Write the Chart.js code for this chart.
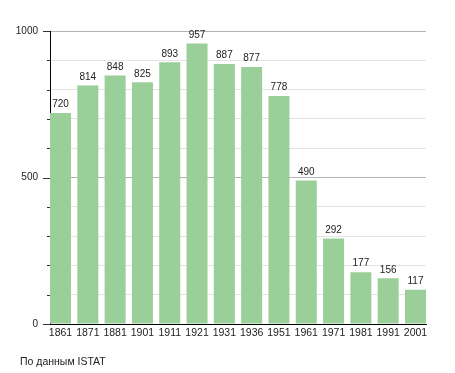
<!DOCTYPE html>
<html>
<head>
<meta charset="utf-8">
<script src="https://cdn.jsdelivr.net/npm/chart.js@4/dist/chart.umd.min.js"></script>
<style>
  html, body { margin: 0; padding: 0; background: #fff; }
  #wrap { width: 455px; height: 373px; }
</style>
</head>
<body>
<div id="wrap"><canvas id="c" width="455" height="373"></canvas></div>
<script>
const years = ['1861','1871','1881','1901','1911','1921','1931','1936','1951','1961','1971','1981','1991','2001'];
const population = [720, 814, 848, 825, 893, 957, 887, 877, 778, 490, 292, 177, 156, 117];
const yTickLabels = [0, 500, 1000];
const sourceNote = 'По данным ISTAT';

const FONT = '"Liberation Sans", Arial, sans-serif';

const valueLabels = {
  id: 'valueLabels',
  afterDatasetsDraw(chart) {
    const ctx = chart.ctx;
    const meta = chart.getDatasetMeta(0);
    ctx.save();
    ctx.font = '10px ' + FONT;
    ctx.fillStyle = '#222';
    ctx.textAlign = 'center';
    ctx.textBaseline = 'middle';
    meta.data.forEach((bar, i) => {
      ctx.fillText(String(population[i]), bar.x, bar.y - 8.5);
    });
    ctx.restore();
  }
};

const yTickMarks = {
  id: 'yTickMarks',
  afterDraw(chart) {
    const ctx = chart.ctx;
    const y = chart.scales.y;
    const x0 = chart.chartArea.left;
    ctx.save();
    ctx.strokeStyle = '#333';
    ctx.lineWidth = 1;
    for (let v = 0; v <= 1000; v += 100) {
      const py = Math.round(y.getPixelForValue(v)) + 0.5;
      const len = (v % 500 === 0) ? 7 : 3;
      ctx.beginPath();
      ctx.moveTo(x0 - len, py);
      ctx.lineTo(x0, py);
      ctx.stroke();
    }
    ctx.font = '10.5px ' + FONT;
    ctx.fillStyle = '#222';
    ctx.textAlign = 'left';
    ctx.textBaseline = 'middle';
    ctx.fillText(sourceNote, 20, 362);
    ctx.restore();
  }
};

new Chart(document.getElementById('c'), {
  type: 'bar',
  data: {
    datasets: [{
      data: years.map((yr, i) => ({ x: i, y: population[i] })),
      backgroundColor: 'rgb(155, 207, 153)',
      borderWidth: 0,
      barPercentage: 0.77,
      categoryPercentage: 1
    }]
  },
  options: {
    responsive: false,
    animation: false,
    layout: { padding: { top: 31, right: 29, left: 0, bottom: 0 } },
    plugins: { legend: { display: false }, tooltip: { enabled: false } },
    scales: {
      x: {
        type: 'linear',
        offset: false,
        min: -0.385,
        max: years.length - 1 + 0.385,
        afterBuildTicks(scale) { scale.ticks = years.map((_, i) => ({ value: i })); },
        afterFit(scale) { scale.height = 49; },
        grid: { display: false, drawTicks: false, offset: false },
        border: { display: true, color: '#000', width: 1 },
        ticks: {
          autoSkip: false,
          maxRotation: 0,
          padding: 3,
          color: '#222',
          font: { family: FONT, size: 10.5 },
          callback: (v) => years[v]
        }
      },
      y: {
        min: 0,
        max: 1000,
        afterFit(scale) { scale.width = 50; },
        ticks: {
          stepSize: 100,
          padding: 12,
          color: '#222',
          font: { family: FONT, size: 10 },
          callback: (v) => yTickLabels.includes(v) ? String(v) : ''
        },
        grid: {
          drawTicks: false,
          color: (c) => (c.tick && c.tick.value % 500 === 0) ? '#b4b4b4' : '#e4e4e4',
          lineWidth: 1
        },
        border: { display: true, color: '#000', width: 1 }
      }
    }
  },
  plugins: [valueLabels, yTickMarks]
});
</script>
</body>
</html>
